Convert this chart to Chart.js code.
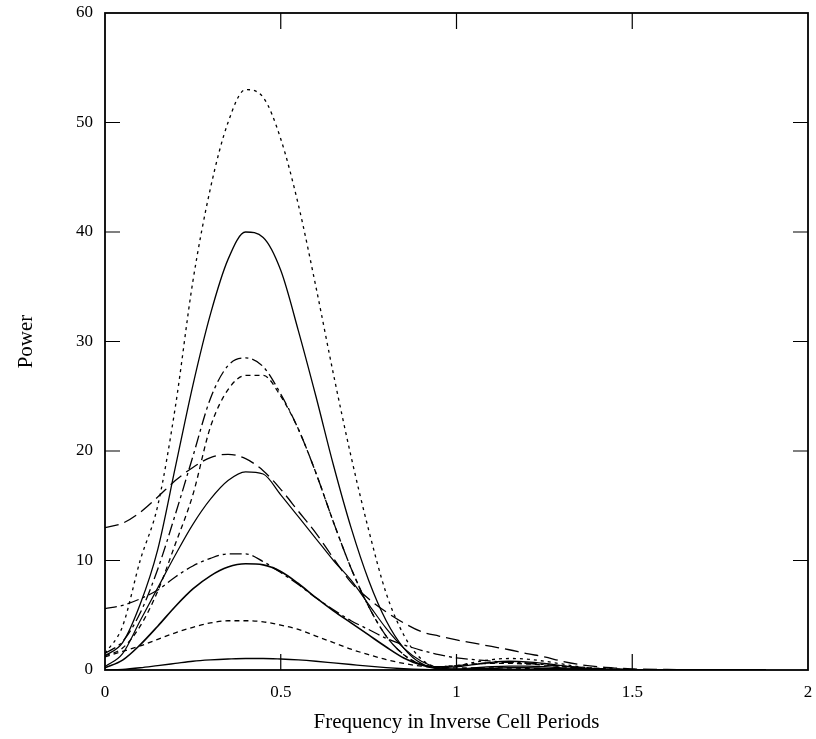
<!DOCTYPE html>
<html>
<head>
<meta charset="utf-8">
<script src="https://cdn.jsdelivr.net/npm/chart.js@4/dist/chart.umd.min.js"></script>
<style>
html,body{margin:0;padding:0;background:#fff;}
#wrap{width:816px;height:739px;position:relative;}
</style>
</head>
<body>
<div id="wrap"><canvas id="c"></canvas></div>
<script>
// Frequency samples (inverse cell periods)
const freq = [0,0.05,0.1,0.15,0.2,0.25,0.3,0.35,0.4,0.45,0.5,0.55,0.6,0.65,0.7,0.75,0.8,0.85,0.9,0.95,1.0,1.05,1.1,1.15,1.2,1.25,1.3,1.35,1.4,1.45,1.5,1.6,1.7,1.8,1.88];

// Power curves
const powerA = [1.5,4,10,15,24,35.5,44,50,53,52.3,48.5,42.5,35,27,19.5,12.8,7,3.2,1.0,0.3,0.4,0.7,0.95,1.05,1.0,0.8,0.55,0.3,0.15,0.07,0.04,0.03,0.03,0.02,0.02];
const powerB = [1.3,2.5,6,11,18.5,26,32.5,37.5,40,39.5,36.5,31,25,18.7,13,8.2,4.5,2,0.6,0.2,0.3,0.5,0.7,0.8,0.75,0.6,0.4,0.2,0.1,0.05,0.03,0.02,0.02,0.02,0.02];
const powerC = [1.5,2.6,5.2,9.2,14.2,19.5,24.8,27.8,28.5,27.7,25.2,22,18,13.5,9.3,5.8,3.1,1.4,0.5,0.3,0.4,0.55,0.65,0.7,0.65,0.5,0.35,0.2,0.1,0.05,0.03,0.02,0.02,0.02,0.02];
const powerD = [1.3,2,4,7.2,11.5,16,22.2,25.6,26.9,26.9,25,22,18,13.5,9.3,5.8,3.1,1.4,0.5,0.3,0.4,0.55,0.6,0.6,0.55,0.45,0.3,0.18,0.1,0.05,0.03,0.02,0.02,0.02,0.02];
const powerE = [13,13.4,14.4,15.8,17.3,18.5,19.4,19.7,19.3,18.2,16.5,14.5,12.5,10.2,8,6.5,5.3,4.3,3.5,3.1,2.75,2.45,2.15,1.85,1.5,1.2,0.8,0.5,0.3,0.18,0.1,0.05,0.03,0.02,0.02];
const powerF = [0.3,1.5,4.5,7.5,10.5,13.3,15.6,17.3,18.1,17.9,16,14,12,10,8.2,6,3.8,2,0.8,0.2,0.1,0.2,0.3,0.35,0.35,0.3,0.2,0.12,0.06,0.04,0.03,0.02,0.02,0.02,0.02];
const powerG = [5.6,5.9,6.5,7.3,8.5,9.5,10.2,10.6,10.6,9.9,8.9,7.8,6.6,5.5,4.5,3.7,2.9,2.3,1.8,1.4,1.1,0.95,0.8,0.7,0.6,0.5,0.35,0.25,0.15,0.1,0.05,0.03,0.02,0.02,0.02];
const powerH = [0.2,0.9,2.3,4.0,5.8,7.4,8.6,9.4,9.7,9.6,9.0,7.9,6.6,5.4,4.3,3.2,2.1,1.1,0.45,0.1,0.05,0.1,0.15,0.2,0.2,0.15,0.1,0.06,0.04,0.03,0.02,0.02,0.02,0.02,0.02];
const powerI = [1.2,1.7,2.2,2.8,3.4,3.9,4.3,4.5,4.5,4.4,4.1,3.7,3.1,2.5,1.9,1.4,0.95,0.6,0.35,0.25,0.2,0.2,0.2,0.18,0.15,0.12,0.1,0.07,0.05,0.03,0.02,0.02,0.02,0.02,0.02];
const powerJ = [0,0.05,0.2,0.4,0.6,0.8,0.92,1.0,1.05,1.05,1.0,0.92,0.8,0.65,0.5,0.35,0.22,0.12,0.05,0.02,0.02,0.02,0.03,0.03,0.03,0.02,0.02,0.02,0.02,0.02,0.02,0.02,0.02,0.02,0.02];

// Axis ticks
const xTicks = [0,0.5,1,1.5,2];
const yTicks = [0,10,20,30,40,50,60];

const series = [
  {d: powerA, dash: [3,4], w: 1.3},
  {d: powerB, dash: [], w: 1.3},
  {d: powerC, dash: [12,4,3,4], w: 1.3},
  {d: powerD, dash: [5,4], w: 1.3},
  {d: powerE, dash: [14,6], w: 1.3},
  {d: powerF, dash: [], w: 1.2},
  {d: powerG, dash: [12,4,3,4], w: 1.3},
  {d: powerH, dash: [], w: 1.6},
  {d: powerI, dash: [5,4], w: 1.3},
  {d: powerJ, dash: [], w: 1.4}
];

const datasets = series.map(s => ({
  data: freq.map((f, i) => ({x: f, y: s.d[i]})),
  borderColor: '#000',
  borderWidth: s.w,
  borderDash: s.dash,
  pointRadius: 0,
  fill: false,
  cubicInterpolationMode: 'monotone'
}));

const frame = {
  id: 'frame',
  afterDatasetsDraw(chart) {
    const {ctx, chartArea: a, scales: {x, y}} = chart;
    ctx.save();
    ctx.strokeStyle = '#000';
    ctx.setLineDash([]);
    ctx.lineWidth = 1.2;
    ctx.beginPath();
    xTicks.forEach(v => {
      const px = x.getPixelForValue(v);
      if (px <= a.left + 1 || px >= a.right - 1) return;
      ctx.moveTo(px, a.bottom); ctx.lineTo(px, a.bottom - 16);
      ctx.moveTo(px, a.top); ctx.lineTo(px, a.top + 16);
    });
    yTicks.forEach(v => {
      const py = y.getPixelForValue(v);
      if (py <= a.top + 1 || py >= a.bottom - 1) return;
      ctx.moveTo(a.left, py); ctx.lineTo(a.left + 15, py);
      ctx.moveTo(a.right, py); ctx.lineTo(a.right - 15, py);
    });
    ctx.stroke();
    ctx.lineWidth = 1.8;
    ctx.strokeRect(a.left, a.top, a.right - a.left, a.bottom - a.top);
    ctx.restore();
  }
};

new Chart(document.getElementById('c'), {
  type: 'line',
  data: {datasets},
  options: {
    responsive: true,
    maintainAspectRatio: false,
    animation: false,
    events: [],
    layout: {padding: {left: 0, right: 8, top: 13, bottom: 0}},
    plugins: {legend: {display: false}, tooltip: {enabled: false}},
    scales: {
      x: {
        type: 'linear', min: 0, max: 2,
        afterBuildTicks: s => { s.ticks = xTicks.map(v => ({value: v})); },
        afterFit: s => { s.height = 69; s.paddingLeft = 0; s.paddingRight = 0; },
        grid: {display: false, drawTicks: false},
        border: {display: false},
        ticks: {
          color: '#000', padding: 12, maxRotation: 0,
          font: {family: 'Liberation Serif', size: 17},
          callback: v => String(v)
        },
        title: {
          display: true, text: 'Frequency in Inverse Cell Periods', color: '#000',
          font: {family: 'Liberation Serif', size: 21}, padding: {top: 0, bottom: 4}
        }
      },
      y: {
        type: 'linear', min: 0, max: 60,
        afterBuildTicks: s => { s.ticks = yTicks.map(v => ({value: v})); },
        afterFit: s => { s.width = 105; s.paddingTop = 0; s.paddingBottom = 0; },
        grid: {display: false, drawTicks: false},
        border: {display: false},
        ticks: {
          color: '#000', padding: 12,
          font: {family: 'Liberation Serif', size: 17},
          callback: v => String(v)
        },
        title: {
          display: true, text: 'Power', color: '#000',
          font: {family: 'Liberation Serif', size: 21}, padding: {top: 14, bottom: 0}
        }
      }
    }
  },
  plugins: [frame]
});
</script>
</body>
</html>
